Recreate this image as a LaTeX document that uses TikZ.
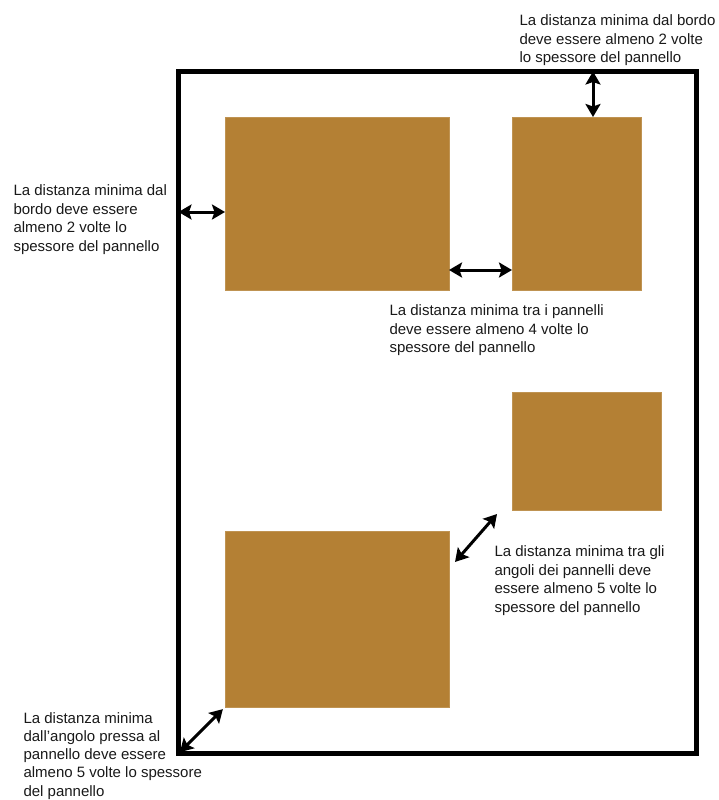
\documentclass[tikz,border=0pt]{standalone}
\usepackage{fontspec}
\setmainfont{Liberation Sans}
\usetikzlibrary{arrows.meta}
\definecolor{cork}{RGB}{180,128,52}
\definecolor{ink}{RGB}{25,25,25}
\begin{document}
\begin{tikzpicture}[x=1pt,y=-1pt,line width=3pt,>={Stealth[length=13pt,width=15pt,inset=2.5pt]},
	frame/.style={draw,line width=4.5pt,inner sep=0pt,outer sep=0pt,anchor=north west},
	panel/.style={fill=cork,draw=cork!85!white,line width=0.6pt,inner sep=0pt,outer sep=0pt,anchor=north west},
	note/.style={align=left,anchor=north west,inner sep=0pt,text=ink,font=\fontsize{15}{18.7}\selectfont}]
	\useasboundingbox (0,0) rectangle (719,800);
	% frame and panels
	\node[frame,minimum width=518pt,minimum height=682pt] (frame) at (178.5,71.5) {};
	\node[panel,minimum width=224pt,minimum height=173pt] (p1) at (225,117) {};
	\node[panel,minimum width=129.5pt,minimum height=173pt] (p2) at (512,117) {};
	\node[panel,minimum width=149.5pt,minimum height=118.5pt] (p3) at (512,392) {};
	\node[panel,minimum width=224pt,minimum height=176pt] (p4) at (225,531) {};
	% distances
	\coordinate (xt) at (593,0);
	\coordinate (yl) at (0,212);
	\coordinate (ym) at (0,270);
	\coordinate (d1) at (455,562);
	\coordinate (d2) at (497,514);
	\draw[<->] (frame.north -| xt) -- (p2.north -| xt);
	\draw[<->] (frame.west |- yl) -- (p1.west |- yl);
	\draw[<->] (p1.east |- ym) -- (p2.west |- ym);
	\draw[<->] (d1) -- (d2);
	\draw[<->,shorten <=2pt,shorten >=3pt] (frame.south west) -- (p4.south west);
	% notes
	\node[note] (n1) at (518,13) {La distanza minima dal bordo\\deve essere almeno 2 volte\\lo spessore del pannello};
	\node[note] (n2) at (12,183) {La distanza minima dal\\bordo deve essere\\almeno 2 volte lo\\spessore del pannello};
	\node[note] (n3) at (388,303) {La distanza minima tra i pannelli\\deve essere almeno 4 volte lo\\spessore del pannello};
	\node[note] (n4) at (493,544) {La distanza minima tra gli\\angoli dei pannelli deve\\essere almeno 5 volte lo\\spessore del pannello};
	\node[note,font=\fontsize{15}{18.2}\selectfont] (n5) at (22,711) {La distanza minima\\dall’angolo pressa al\\pannello deve essere\\almeno 5 volte lo spessore\\del pannello};
\end{tikzpicture}
\end{document}
